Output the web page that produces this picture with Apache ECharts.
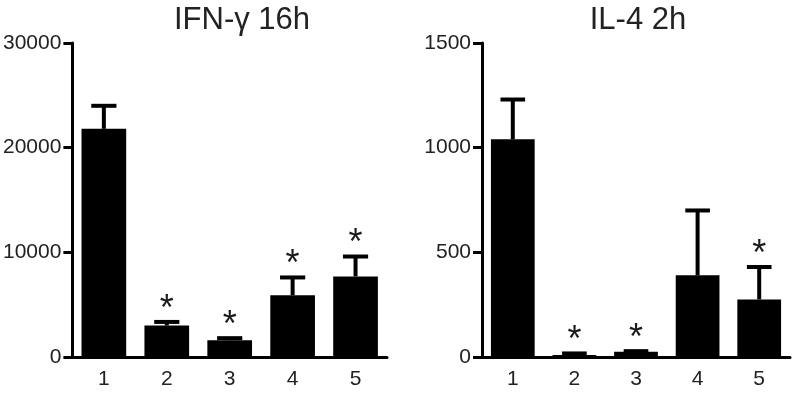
<!DOCTYPE html>
<html>
<head>
<meta charset="utf-8">
<script src="https://cdn.jsdelivr.net/npm/echarts@6/dist/echarts.min.js"></script>
<style>
  html, body { margin: 0; padding: 0; background: #fff; }
  #chart { width: 800px; height: 394px; }
</style>
</head>
<body>
<div id="chart"></div>
<script>
// groups on the x axis
const groups = ['1', '2', '3', '4', '5']

// IFN-γ 16h
const ifnMean = [21800, 3000, 1600, 5900, 7700]
const ifnUpper = [24000, 3350, 1800, 7600, 9600]
const ifnStar = [0, 1, 1, 1, 1]
const ifnTicks = { min: 0, max: 30000, interval: 10000 }

// IL-4 2h
const il4Mean = [1040, 10, 25, 390, 275]
const il4Upper = [1230, 17, 28, 700, 430]
const il4Star = [0, 1, 1, 0, 1]
const il4Ticks = { min: 0, max: 1500, interval: 500 }

const FONT = 'Liberation Sans, Arial, Helvetica, sans-serif'
const chart = echarts.init(document.getElementById('chart'))

// error bar (upper only) + significance star
const errRender = (params, api) => {
  const i = api.value(0)
  const lo = api.coord([i, api.value(1)])
  const hi = api.coord([i, api.value(2)])
  const half = api.size([1, 0])[0] * 0.2
  const kids = [
    { type: 'line', shape: { x1: lo[0], y1: lo[1], x2: hi[0], y2: hi[1] }, style: { stroke: '#000', lineWidth: 4 } },
    { type: 'line', shape: { x1: hi[0] - half, y1: hi[1], x2: hi[0] + half, y2: hi[1] }, style: { stroke: '#000', lineWidth: 4 } }
  ]
  if (api.value(3)) {
    kids.push({
      type: 'text',
      style: { text: '*', x: hi[0], y: hi[1] - 12, align: 'center', verticalAlign: 'middle', fontSize: 36, fontFamily: FONT, fill: '#1a1a1a' }
    })
  }
  return { type: 'group', children: kids }
}

const xAxisOf = gridIndex => ({
  type: 'category',
  gridIndex,
  data: groups,
  axisLine: { lineStyle: { color: '#000', width: 3 } },
  axisTick: { alignWithLabel: true, length: 9, lineStyle: { color: '#000', width: 3 } },
  axisLabel: { color: '#222', fontSize: 21, fontFamily: FONT, margin: 12 }
})

const yAxisOf = (gridIndex, t) => ({
  type: 'value',
  gridIndex,
  min: t.min,
  max: t.max,
  interval: t.interval,
  splitLine: { show: false },
  axisLine: { show: true, lineStyle: { color: '#000', width: 3 } },
  axisTick: { show: true, length: 9, lineStyle: { color: '#000', width: 3 } },
  axisLabel: { color: '#222', fontSize: 21, fontFamily: FONT, margin: 11, formatter: v => String(v) }
})

const seriesOf = (idx, mean, upper, star) => [
  {
    type: 'bar',
    xAxisIndex: idx,
    yAxisIndex: idx,
    data: mean,
    barCategoryGap: '29%',
    itemStyle: { color: '#000' }
  },
  {
    type: 'custom',
    xAxisIndex: idx,
    yAxisIndex: idx,
    clip: false,
    renderItem: errRender,
    data: mean.map((m, i) => [i, m, upper[i], star[i]]),
    z: 3
  }
]

const titleStyle = { fontSize: 31, fontWeight: 'normal', color: '#222', fontFamily: FONT }

chart.setOption({
  animation: false,
  title: [
    { text: 'IFN-γ 16h', left: 237, top: 0, textAlign: 'center', textStyle: titleStyle },
    { text: 'IL-4 2h', left: 633, top: 0, textAlign: 'center', textStyle: titleStyle }
  ],
  grid: [
    { left: 72, right: 413, top: 43, bottom: 37 },
    { left: 482, right: 10, top: 43, bottom: 37 }
  ],
  xAxis: [xAxisOf(0), xAxisOf(1)],
  yAxis: [yAxisOf(0, ifnTicks), yAxisOf(1, il4Ticks)],
  series: [
    ...seriesOf(0, ifnMean, ifnUpper, ifnStar),
    ...seriesOf(1, il4Mean, il4Upper, il4Star)
  ]
})
</script>
</body>
</html>
